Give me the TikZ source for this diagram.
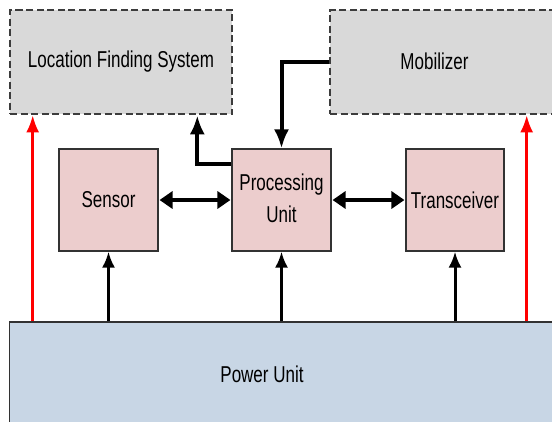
\documentclass[tikz,border=0pt]{standalone}
\usepackage{fontspec}
\setmainfont{Liberation Sans}
\usepackage{graphicx}
\usetikzlibrary{arrows.meta}
\definecolor{boxgray}{RGB}{217,217,217}
\definecolor{dashgray}{RGB}{60,60,60}
\definecolor{pinkfill}{RGB}{236,205,205}
\definecolor{bluefill}{RGB}{200,214,229}
\definecolor{edgedark}{RGB}{50,50,50}
\newcommand\stretchtext[1]{\scalebox{1}[1.35]{#1}}
\begin{document}
\begin{tikzpicture}[x=1pt,y=-1pt,
  txt/.style={font=\fontsize{17}{23.7}\selectfont, inner sep=0pt},
  optbox/.style={draw=dashgray, fill=boxgray, line width=2.6pt, dash pattern=on 7pt off 3.5pt, rectangle, inner sep=0pt},
  unitbox/.style={draw=edgedark, fill=pinkfill, line width=1.1pt, rectangle, inner sep=0pt, minimum width=99pt, minimum height=102pt, txt},
  powerbox/.style={draw=edgedark, fill=bluefill, line width=1.1pt, rectangle, inner sep=0pt},
  redarrow/.style={draw=red, line width=2.6pt, -{Latex[length=17pt,width=13pt]}},
  powarrow/.style={draw=black, line width=3pt, -{Latex[length=16pt,width=13pt]}},
  ctrlarrow/.style={draw=black, line width=4pt, -{Latex[length=19pt,width=15pt]}},
  bothways/.style={draw=black, line width=4.2pt, {Triangle[length=13pt,width=17pt]}-{Triangle[length=13pt,width=17pt]}, shorten <=1pt, shorten >=1pt}
]
\clip (0,0) rectangle (552,421);
\fill[white] (0,0) rectangle (552,421);

% optional units (dashed)
\node[optbox, minimum width=222pt, minimum height=104pt, txt] (lfs) at (121,62) {\stretchtext{Location Finding System}};
\node[optbox, minimum width=250pt, minimum height=104pt] (mob) at (455,62) {};
\node[txt] (mobtext) at (434.5,61) {\stretchtext{Mobilizer}};

% core units
\node[unitbox] (sensor) at (108.5,200) {\stretchtext{Sensor}};
\node[unitbox] (pu) at (281.5,200) {\stretchtext{\begin{tabular}{@{}c@{}}Processing\\Unit\end{tabular}}};
\node[unitbox, minimum width=98pt] (trans) at (455,200) {\stretchtext{Transceiver}};

% power unit
\node[powerbox, minimum width=590pt, minimum height=138pt] (power) at (304.5,391) {};
\node[txt] (powertext) at (262,374) {\stretchtext{Power Unit}};

% red supply arrows to optional units
\coordinate (lfsin) at ([xshift=24pt]lfs.south west);
\coordinate (mobin) at ([xshift=198pt]mob.south west);
\draw[redarrow] (power.north -| lfsin) -- (lfsin);
\draw[redarrow] (power.north -| mobin) -- (mobin);

% power arrows
\draw[powarrow] (power.north -| sensor.south) -- (sensor.south);
\draw[powarrow] (power.north -| pu.south) -- (pu.south);
\draw[powarrow] (power.north -| trans.south) -- (trans.south);

% control connections
\coordinate (pulfs) at ([yshift=-16pt]pu.north west);
\coordinate (lfsin2) at ([xshift=-36pt]lfs.south east);
\draw[ctrlarrow] (pulfs) -| (lfsin2);
\draw[ctrlarrow] (mob.west) -| (pu.north);

% data links
\draw[bothways] (sensor.east) -- (pu.west);
\draw[bothways] (pu.east) -- (trans.west);
\end{tikzpicture}
\end{document}
